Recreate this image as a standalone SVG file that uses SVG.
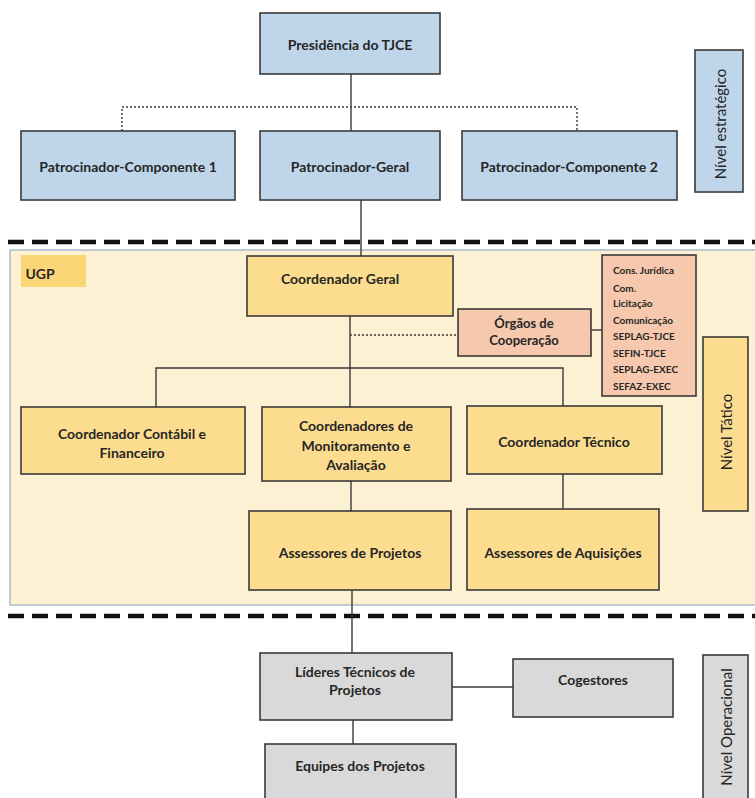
<svg xmlns="http://www.w3.org/2000/svg" width="755" height="798" viewBox="0 0 755 798">
<style>
text{font-family:Lato,"Open Sans","Liberation Sans",sans-serif;font-weight:bold;fill:#262626;text-anchor:middle;dominant-baseline:central}
.box{stroke:#3a3a3a;stroke-width:1.6}
.blue{fill:#bed5ea}
.gold{fill:#fcdc8e}
.salmon{fill:#f6c8ad}
.grey{fill:#d9d9d9}
.n{font-size:14px}
.s{font-size:10px;text-anchor:start}
.lvl{font-size:15px;font-weight:normal}
.con{stroke:#3a3a3a;stroke-width:1.4;fill:none}
.dot{stroke:#3a3a3a;stroke-width:1.4;fill:none;stroke-dasharray:2 2}
.sep{stroke:#111;stroke-width:4.5;stroke-dasharray:16 8;fill:none}
</style>
<rect width="755" height="798" fill="#ffffff"/>
<g id="ugp-area">
<rect x="10" y="250" width="747" height="355" fill="#fdf1d3" stroke="#a9bccd" stroke-width="1.5"/>
</g>
<g id="separators">
<line class="sep" x1="8" y1="242" x2="755" y2="242"/>
<line class="sep" x1="8" y1="616" x2="755" y2="616"/>
</g>
<g id="connectors">
<line class="con" x1="351" y1="74" x2="351" y2="131"/>
<polyline class="dot" points="122,131 122,107 577,107 577,131"/>
<line class="con" x1="361" y1="200" x2="361" y2="256"/>
<line class="con" x1="350" y1="316" x2="350" y2="407"/>
<line class="dot" x1="350" y1="335" x2="458" y2="335"/>
<line class="con" x1="591" y1="330" x2="602" y2="330"/>
<polyline class="con" points="156,407 156,368 563,368 563,406"/>
<line class="con" x1="351" y1="481" x2="351" y2="511"/>
<line class="con" x1="563" y1="474" x2="563" y2="509"/>
<line class="con" x1="352" y1="590" x2="352" y2="653"/>
<line class="con" x1="452" y1="687" x2="513" y2="687"/>
<line class="con" x1="353" y1="720" x2="353" y2="744"/>
</g>
<g id="presidencia">
<rect class="box blue" x="260" y="13" width="180" height="61"/>
<text class="n" x="350" y="44">Presidência do TJCE</text>
</g>
<g id="patrocinador-componente-1">
<rect class="box blue" x="21" y="131" width="214" height="69"/>
<text class="n" x="128" y="166">Patrocinador-Componente 1</text>
</g>
<g id="patrocinador-geral">
<rect class="box blue" x="260" y="131" width="180" height="69"/>
<text class="n" x="350" y="166">Patrocinador-Geral</text>
</g>
<g id="patrocinador-componente-2">
<rect class="box blue" x="462" y="131" width="215" height="69"/>
<text class="n" x="569" y="166">Patrocinador-Componente 2</text>
</g>
<g id="nivel-estrategico">
<rect class="box blue" x="695" y="50" width="48" height="142"/>
<text class="lvl" transform="translate(720 124) rotate(-90)">Nível  estratégico</text>
</g>
<g id="ugp-label">
<rect x="21" y="255" width="65" height="32" fill="#fbd676"/>
<text class="n" x="40" y="273">UGP</text>
</g>
<g id="coordenador-geral">
<rect class="box gold" x="247" y="256" width="206" height="60"/>
<text class="n" x="340" y="278">Coordenador  Geral</text>
</g>
<g id="orgaos-cooperacao">
<rect class="box salmon" x="458" y="309" width="133" height="47"/>
<text class="n" x="524" y="323" style="font-size:13px">Órgãos de</text>
<text class="n" x="524" y="340" style="font-size:13px">Cooperação</text>
</g>
<g id="lista-cooperacao">
<rect class="box salmon" x="602" y="255" width="94" height="141"/>
<text class="s" x="613" y="270">Cons. Jurídica</text>
<text class="s" x="613" y="288">Com.</text>
<text class="s" x="613" y="303">Licitação</text>
<text class="s" x="613" y="320">Comunicação</text>
<text class="s" x="613" y="336">SEPLAG-TJCE</text>
<text class="s" x="613" y="353">SEFIN-TJCE</text>
<text class="s" x="613" y="369">SEPLAG-EXEC</text>
<text class="s" x="613" y="386">SEFAZ-EXEC</text>
</g>
<g id="nivel-tatico">
<rect class="box gold" x="703" y="337" width="45" height="174"/>
<text class="lvl" transform="translate(726 432) rotate(-90)">Nível Tático</text>
</g>
<g id="coordenador-contabil">
<rect class="box gold" x="21" y="407" width="224" height="67"/>
<text class="n" x="132" y="433">Coordenador  Contábil e</text>
<text class="n" x="132" y="452">Financeiro</text>
</g>
<g id="coordenadores-monitoramento">
<rect class="box gold" x="262" y="407" width="189" height="74"/>
<text class="n" x="356" y="425">Coordenadores  de</text>
<text class="n" x="356" y="445">Monitoramento e</text>
<text class="n" x="356" y="464">Avaliação</text>
</g>
<g id="coordenador-tecnico">
<rect class="box gold" x="467" y="406" width="195" height="68"/>
<text class="n" x="564" y="441">Coordenador  Técnico</text>
</g>
<g id="assessores-projetos">
<rect class="box gold" x="249" y="511" width="202" height="79"/>
<text class="n" x="350" y="552">Assessores de Projetos</text>
</g>
<g id="assessores-aquisicoes">
<rect class="box gold" x="467" y="509" width="192" height="81"/>
<text class="n" x="563" y="552">Assessores de Aquisições</text>
</g>
<g id="lideres-tecnicos">
<rect class="box grey" x="260" y="653" width="192" height="67"/>
<text class="n" x="355" y="671">Líderes Técnicos de</text>
<text class="n" x="355" y="689">Projetos</text>
</g>
<g id="cogestores">
<rect class="box grey" x="513" y="659" width="160" height="58"/>
<text class="n" x="593" y="679">Cogestores</text>
</g>
<g id="equipes-projetos">
<rect class="box grey" x="265" y="744" width="191" height="60"/>
<text class="n" x="360" y="765">Equipes dos Projetos</text>
</g>
<g id="nivel-operacional">
<rect class="box grey" x="703" y="655" width="45" height="150"/>
<text class="lvl" transform="translate(726 727) rotate(-90)">Nível Operacional</text>
</g>
</svg>
